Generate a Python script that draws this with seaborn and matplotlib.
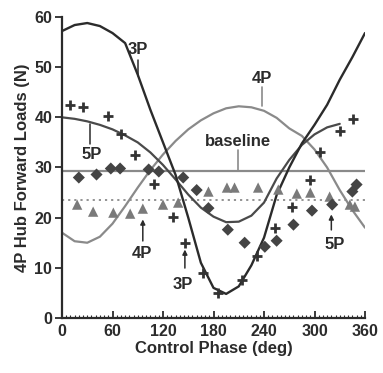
import numpy as np
import pandas as pd
import matplotlib
matplotlib.use("Agg")
import matplotlib.pyplot as plt
import seaborn as sns
from matplotlib.ticker import MultipleLocator

# ---- data ----
curve_deg = [0, 15, 30, 45, 60, 75, 90, 105, 120, 135, 150, 165, 180,
             195, 210, 225, 240, 255, 270, 285, 300, 315, 330, 345, 360]
fit_3p = [57.2, 58.4, 58.8, 58.2, 56.8, 54.8, 48.5, 41.5, 35.0, 28.5, 20.0,
          11.0, 6.0, 4.8, 6.3, 10.5, 16.0, 24.5, 30.0, 34.8, 38.5, 42.5,
          47.5, 52.0, 56.8]
fit_4p = [17.0, 15.3, 15.0, 16.2, 18.8, 22.3, 26.0, 29.5, 32.6, 35.3, 37.6,
          39.4, 40.8, 41.8, 42.2, 42.0, 41.3, 39.9, 37.8, 36.3, 33.6, 30.0,
          25.5, 21.5, 18.0]
deg_5p = [0, 15, 30, 45, 60, 75, 90, 105, 120, 135, 150, 165, 180, 195,
          210, 225, 240, 255, 270, 285, 300, 315, 330]
fit_5p = [40.0, 39.7, 39.2, 38.5, 37.6, 36.4, 35.0, 33.0, 30.5, 27.6, 24.6,
          22.0, 20.2, 19.1, 19.2, 20.4, 23.0, 27.8, 31.5, 34.5, 36.6, 38.0,
          38.7]
baseline_level = 29.3
dotted_level = 23.5

cross_deg = [10, 25, 55, 70, 87, 109, 132, 146, 168, 185, 214, 232, 253,
             273, 295, 306, 330, 346]
cross_val = [42.4, 42.0, 40.2, 36.6, 32.5, 26.8, 20.2, 15.0, 9.0, 5.0, 7.6,
             12.4, 18.0, 22.2, 27.6, 33.0, 37.2, 39.6]
diam_deg = [20, 41, 58, 69, 103, 115, 144, 160, 174, 197, 217, 241, 255,
            275, 297, 321, 345, 350]
diam_val = [28.0, 28.6, 29.8, 29.8, 29.6, 29.2, 28.0, 25.5, 21.9, 17.6, 15.0,
            14.2, 15.4, 18.6, 21.4, 22.6, 25.2, 26.6]
tri_deg = [18, 37, 61, 81, 96, 120, 138, 174, 196, 205, 233, 257, 279, 295,
           318, 342, 348]
tri_val = [22.6, 21.2, 21.0, 20.8, 21.8, 22.6, 23.0, 25.2, 26.0, 26.0, 26.0,
           25.6, 24.8, 25.0, 24.2, 22.6, 22.2]

x_ticks = [0, 60, 120, 180, 240, 300, 360]
y_ticks = [0, 10, 20, 30, 40, 50, 60]

# ---- style ----
sns.set_style("ticks")
plt.rcParams['font.family'] = ['Liberation Sans', 'DejaVu Sans']
plt.rcParams['font.weight'] = 'bold'

dark = "#2b2b2b"
mid = "#4a4a4a"
gray = "#8a8a8a"

fig = plt.figure(figsize=(3.83, 3.73), dpi=100)
ax = fig.add_axes([0.1619, 0.1475, 0.7911, 0.8069])

df_3p = pd.DataFrame({"deg": curve_deg, "val": fit_3p})
df_4p = pd.DataFrame({"deg": curve_deg, "val": fit_4p})
df_5p = pd.DataFrame({"deg": deg_5p, "val": fit_5p})

sns.lineplot(data=df_4p, x="deg", y="val", ax=ax, color=gray, lw=1.6)
sns.lineplot(data=df_5p, x="deg", y="val", ax=ax, color=mid, lw=1.6)
sns.lineplot(data=df_3p, x="deg", y="val", ax=ax, color=dark, lw=1.7)
ax.axhline(baseline_level, xmin=0, xmax=1, color=gray, lw=1.6, zorder=1)
ax.axhline(dotted_level, xmin=0, xmax=1, color=gray, lw=1.3,
           ls=(0, (1.2, 2.2)), zorder=1)

sns.scatterplot(x=tri_deg, y=tri_val, ax=ax, marker="^", s=55,
                color="#7a7a7a", edgecolor="none", zorder=4)
sns.scatterplot(x=diam_deg, y=diam_val, ax=ax, marker="D", s=38,
                color="#444444", edgecolor="none", zorder=4)
sns.scatterplot(x=cross_deg, y=cross_val, ax=ax, marker="+", s=60,
                color="#333333", linewidth=2.0, zorder=5)

ax.set_xlim(0, 360)
ax.set_ylim(0, 60)
ax.set_xticks(x_ticks)
ax.set_yticks(y_ticks)
ax.xaxis.set_minor_locator(MultipleLocator(5))
ax.tick_params(axis="x", which="major", direction="in", length=5, width=1.3,
               colors=dark, labelsize=11.5, pad=4)
ax.tick_params(axis="x", which="minor", direction="in", length=2, width=0.8,
               colors=dark)
ax.tick_params(axis="y", which="major", direction="out", length=5, width=1.3,
               colors=dark, labelsize=11.5, pad=2)
for lab in ax.get_xticklabels() + ax.get_yticklabels():
    lab.set_fontweight("bold")
for s in ["top", "right"]:
    ax.spines[s].set_visible(False)
for s in ["left", "bottom"]:
    ax.spines[s].set_linewidth(1.6)
    ax.spines[s].set_color(dark)

ax.set_xlabel("Control Phase (deg)", fontsize=12, fontweight="bold",
              color=dark, labelpad=2)
ax.set_ylabel("4P Hub Forward Loads (N)", fontsize=12, fontweight="bold",
              color=dark, labelpad=3)

tk = dict(fontsize=12, fontweight="bold", color=dark, ha="center",
          va="center")
lead = dict(color=dark, lw=1.1)
# curve labels with leader lines
ax.text(90, 53.6, "3P", **tk)
ax.plot([90, 90], [51.4, 48.3], **lead)
ax.text(35.5, 32.6, "5P", **tk)
ax.plot([33, 33], [38.6, 34.6], **lead)
ax.text(237.5, 47.8, "4P", **tk)
ax.plot([237.5, 237.5], [46.0, 42.2], color=gray, lw=1.2)
ax.text(209, 35.2, "baseline", **tk)
ax.plot([209, 209], [33.4, 29.4], color=gray, lw=1.2)

# arrow labels pointing at data markers
ap = dict(arrowstyle="-|>", color=dark, lw=1.1, mutation_scale=7)
ax.annotate("", xy=(96, 20.2), xytext=(96, 14.8), arrowprops=ap)
ax.text(95, 12.8, "4P", **tk)
ax.annotate("", xy=(146, 14.2), xytext=(146, 9.4), arrowprops=ap)
ax.text(144, 6.6, "3P", **tk)
ax.annotate("", xy=(320, 21.2), xytext=(320, 17.0), arrowprops=ap)
ax.text(324, 14.6, "5P", **tk)

fig.savefig("out.png", dpi=100)
